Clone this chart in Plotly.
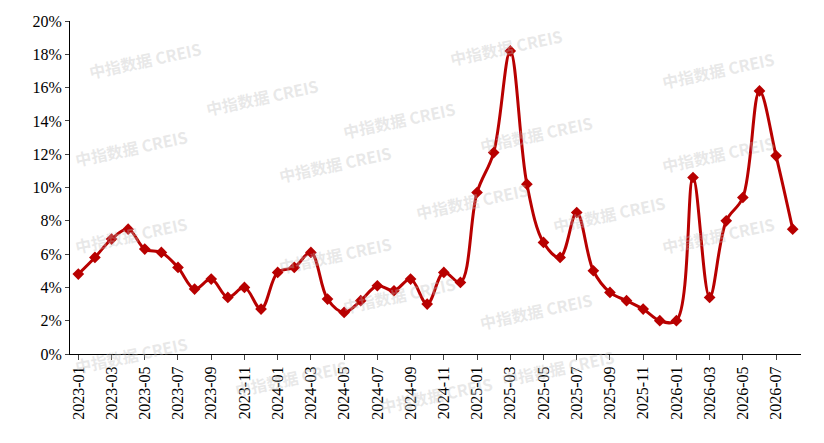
import plotly.graph_objects as go

months = [f"{y}-{m:02d}" for y in (2023, 2024, 2025) for m in range(1, 13)] + [f"2026-{m:02d}" for m in range(1, 9)]
values = [4.8, 5.8, 6.9, 7.5, 6.3, 6.1, 5.2, 3.9, 4.5, 3.4, 4.0, 2.7,
          4.9, 5.2, 6.1, 3.3, 2.5, 3.2, 4.1, 3.8, 4.5, 3.0, 4.9, 4.3,
          9.7, 12.1, 18.2, 10.2, 6.7, 5.8, 8.5, 5.0, 3.7, 3.2, 2.7, 2.0,
          2.0, 10.6, 3.4, 8.0, 9.4, 15.8, 11.9, 7.5]
tick_labels = months[::2]

fig = go.Figure(go.Scatter(
    x=months, y=values, mode="lines+markers",
    line=dict(color="#B80000", width=3, shape="spline", smoothing=1.0),
    marker=dict(symbol="diamond", size=9, color="#B80000"),
))

wm_pos = [(0.02, 0.96), (0.68, 1.0), (0.97, 0.93),
          (0.18, 0.85), (0.45, 0.78), (0.72, 0.74),
          (0.0, 0.62), (0.28, 0.57), (0.97, 0.6),
          (0.55, 0.46), (0.82, 0.42),
          (0.0, 0.28), (0.28, 0.22), (0.97, 0.28),
          (0.45, 0.1), (0.72, 0.05),
          (0.0, -0.08), (0.22, -0.15), (0.5, -0.2), (0.75, -0.12)]
anns = [dict(text="<b>中指数据 CREIS</b>", x=x, y=y, xref="paper", yref="paper", showarrow=False,
             textangle=-12, font=dict(size=16, color="rgba(190,190,190,0.35)", family="Noto Sans CJK SC"))
        for x, y in wm_pos]

fig.update_layout(
    width=824, height=443, margin=dict(l=62, r=31, t=13, b=97),
    plot_bgcolor="white", paper_bgcolor="white", showlegend=False,
    font=dict(family="Liberation Serif", size=16, color="black"),
    annotations=anns,
    xaxis=dict(type="category", tickmode="array", tickvals=tick_labels, ticktext=tick_labels,
               tickangle=-90, showline=True, linecolor="black", ticks="outside",
               ticklen=5, showgrid=False, range=[-0.5, len(months) - 0.5], automargin=False),
    yaxis=dict(range=[0, 20], dtick=2, ticksuffix="%", showline=True, linecolor="black",
               ticks="outside", ticklen=4, showgrid=False, zeroline=False, automargin=False),
)
fig.write_html("out.html")
